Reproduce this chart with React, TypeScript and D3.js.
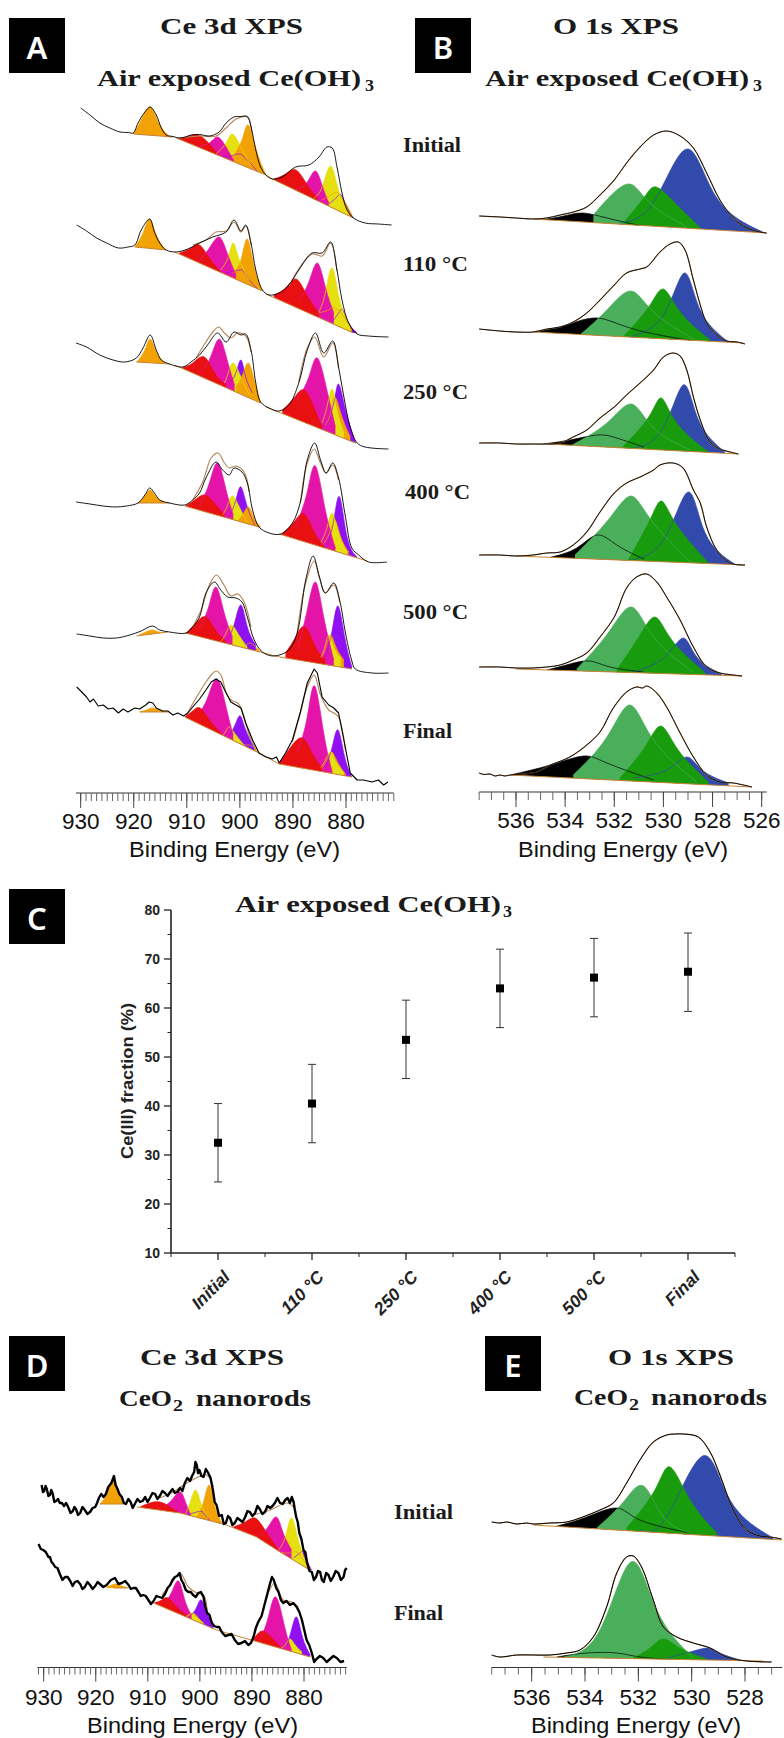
import React from "react";
import * as d3 from "d3";

type Pt = [number, number];
type Peak = { c: string; p: Pt[] };
type Spec = { raw: Pt[]; env: Pt[][]; base: Pt[][]; peaks: Peak[]; jag?: boolean };

const palette: Record<string, string> = {
  red: "#e81010", magenta: "#e514a8", yellow: "#e6e010", orange: "#f2a205", purple: "#8f10f0",
  black: "#000000", blue: "#324aac", light: "#4aaf5a", dark: "#189b0c",
};

// ---------- Panel A: Ce 3d, air exposed Ce(OH)3 (binding energy, offset counts) ----------
const a1Raw: Pt[] = [[930,692],[928.25,685],[926.4,677],[924.5,672],[922.6,668],[921,667.5],[920.1,667],[919.2,677],[917.9,688],[916.9,693],[915.75,685],[914.8,672],[913.9,665],[912.6,663.5],[911.4,662],[910.3,663],[909.2,665],[907.6,665.5],[905.75,664],[903.9,668],[902.6,677],[901.1,683],[899.8,683.5],[898.6,683.5],[897.9,673],[897,650],[896.1,633],[895.1,625],[893.9,621],[892,623],[889.5,633],[887,635],[885.1,643],[883.6,653],[882.6,652],[881.7,633],[880.75,607],[879.8,590],[878.6,582],[876.4,577],[873.9,576],[871.4,575]];
const a1Env: Pt[][] = [[[911.4,662],[907.6,664],[904.5,664],[902.6,672],[900.7,681],[898.6,683],[897.7,667]]];
const a1Base: Pt[][] = [[[920.1,666],[912.6,663]],[[912,662],[895.1,625],[893.9,621],[878.6,582]]];
const a1Peaks: Peak[] = [
  { c: "orange", p: [[920.1,666],[918.6,680],[916.9,693],[915.3,677],[913.2,663]] },
  { c: "purple", p: [[903.25,644],[901.7,644],[900.1,646],[898.6,640],[896.4,627]] },
  { c: "yellow", p: [[904.5,646],[902.6,657],[901.4,666],[899.8,653],[897.9,634]] },
  { c: "orange", p: [[901.4,643],[899.6,660],[898.4,675],[896.9,650],[895.1,625]] },
  { c: "magenta", p: [[908.25,653],[905.75,657],[904.2,663],[902.6,653],[901.1,639]] },
  { c: "red", p: [[911.9,661],[910.1,663],[907.9,665],[905.75,656],[903.9,644]] },
  { c: "purple", p: [[883.25,596],[881.7,603],[880.9,605],[879.8,593],[878.6,582]] },
  { c: "orange", p: [[884.5,600],[882.6,606],[881.5,607],[880.1,597],[878.9,585]] },
  { c: "yellow", p: [[886.1,602],[884.5,613],[882.9,634],[881.4,610],[879.5,587]] },
  { c: "magenta", p: [[889.5,610],[887.3,618],[885.75,629],[884.4,613],[883.25,597]] },
  { c: "red", p: [[893.6,621],[891.4,626],[889.4,630],[887.3,615],[885.4,602]] },
];

const a2Raw: Pt[] = [[930.75,575],[928.9,569],[927,562],[925.1,557],[922.9,552],[921.1,553],[919.8,555],[918.6,570],[917,581],[916.1,568],[915.1,557],[913.9,550],[912,548],[909.8,551],[907.6,557],[905.1,563],[902.6,568],[901.1,580],[899.8,569],[898.9,575],[897.9,557],[897,530],[895.75,510],[894.5,505],[892.6,507],[890.75,515],[888.9,530],[886.4,547],[884.5,547],[882.9,558],[881.7,530],[880.75,500],[879.5,477],[877.9,466],[875.75,464],[872,463]];
const a2Env: Pt[][] = [[[908.9,555],[906.4,560],[904.5,568],[902.6,569],[901.1,578],[899.8,568],[898.9,574],[897.9,555]],[[890.75,514],[888.9,531],[886.4,546],[884.5,544],[882.9,557],[881.7,529]]];
const a2Base: Pt[][] = [[[919.8,553],[913.9,550]],[[912.3,548],[895.75,509]],[[895.1,506],[878.6,467]]];
const a2Peaks: Peak[] = [
  { c: "orange", p: [[919.8,553],[918.25,567],[917,581],[915.75,565],[914,550]] },
  { c: "purple", p: [[902.6,527],[900.1,530],[899.2,528],[897.9,518],[896.4,510]] },
  { c: "yellow", p: [[903.6,530],[902.2,543],[901.25,557],[900.1,540],[898.25,520]] },
  { c: "orange", p: [[901.4,527],[899.8,540],[898.6,561],[897.3,533],[895.75,509]] },
  { c: "magenta", p: [[907.9,538],[905.75,552],[903.9,563],[902.4,547],[900.75,525]] },
  { c: "red", p: [[911.4,547],[909.2,552],[907.6,555],[905.75,542],[903.6,528]] },
  { c: "purple", p: [[882.6,478],[881.4,487],[880.6,490],[879.5,477],[877.9,467]] },
  { c: "orange", p: [[885.4,487],[883.25,490],[882,492],[880.4,483],[878.9,470]] },
  { c: "yellow", p: [[885.1,488],[883.9,507],[882.6,532],[881.2,500],[879.2,475]] },
  { c: "magenta", p: [[888.9,500],[887,518],[885.4,537],[883.9,513],[882.3,487]] },
  { c: "red", p: [[893.6,505],[891.4,512],[889.4,521],[887.4,505],[885.1,487]] },
];

const a3Raw: Pt[] = [[930.9,457],[928.9,453],[926.4,445],[923.9,440],[921.7,438],[919.5,442],[918.25,452],[916.9,465],[915.75,450],[914.8,440],[913.25,436],[910.75,433],[909.2,438],[907.6,445],[906.1,455],[904.2,467],[902.6,458],[901.1,468],[899.8,465],[898.9,466],[897.9,450],[897,417],[896.1,398],[894.5,392],[892.6,389],[890.75,395],[888.9,417],[887.3,450],[885.75,467],[884.2,447],[882.5,459],[881.4,433],[880.4,403],[879.2,373],[877.9,357],[876.4,353],[872,351]];
const a3Env: Pt[][] = [[[908.25,442],[906.4,458],[905.1,468],[904,473],[902.9,467],[901.7,462],[900.4,467],[898.9,464],[897.9,448]],[[888.9,418],[887.3,452],[885.9,463],[884.2,443],[882.5,457],[881.4,432]]];
const a3Base: Pt[][] = [[[919.5,438],[913.25,436]],[[912.3,435],[896.1,397]],[[895.1,393],[878.2,357]]];
const a3Peaks: Peak[] = [
  { c: "orange", p: [[919.4,438],[917.9,450],[916.9,461],[915.75,448],[914.2,437]] },
  { c: "purple", p: [[902,417],[900.75,427],[899.8,440],[898.9,423],[897.6,407]] },
  { c: "yellow", p: [[902.9,417],[902.2,427],[901.25,437],[899.8,423],[898.25,405]] },
  { c: "orange", p: [[900.75,413],[899.5,425],[898.4,437],[897.3,420],[896.1,398]] },
  { c: "magenta", p: [[907.6,427],[905.6,442],[903.9,461],[902.4,440],[901,415]] },
  { c: "red", p: [[911,432],[908.9,437],[906.7,443],[904.8,427],[902.6,415]] },
  { c: "purple", p: [[883.6,377],[882.3,397],[881.4,416],[880.1,390],[878.2,357]] },
  { c: "orange", p: [[883.9,375],[882.9,387],[882.1,403],[880.75,383],[879.2,363]] },
  { c: "yellow", p: [[884.5,377],[883.6,393],[882.6,411],[881.7,390],[880.4,367]] },
  { c: "magenta", p: [[889.2,400],[887,423],[885.4,442],[883.6,410],[882,373]] },
  { c: "red", p: [[892,390],[889.8,402],[887.9,410],[886,392],[884.5,373]] },
];

const a4Raw: Pt[] = [[930.9,298],[928.25,296],[925.75,294],[923.6,293],[921.4,294],[919.2,297],[917.9,305],[917,312],[916.1,307],[915.1,300],[913.25,297],[910.4,295],[908.9,300],[907.6,307],[906.4,322],[904.5,338],[903.25,330],[902,325],[901.1,332],[899.6,328],[898.6,317],[897.6,290],[896.4,273],[894.5,267],[892.3,266],[890.1,277],[888.6,298],[887.3,340],[885.9,357],[884.8,340],[883.75,327],[882.5,337],[881.4,322],[880.1,283],[878.9,252],[877.6,245],[875.75,238],[872.3,238]];
const a4Env: Pt[][] = [[[908.9,300],[907,318],[905.4,342],[904.1,347],[902.9,337],[902,332],[900.75,334],[899.2,328],[898.25,308]],[[888.6,297],[887.3,337],[886,351],[884.8,337],[883.75,327],[882.5,335],[881.4,320]]];
const a4Base: Pt[][] = [[[919.2,297],[913.25,297]],[[910.4,294],[896.4,273]],[[892.6,266],[876,239]]];
const a4Peaks: Peak[] = [
  { c: "orange", p: [[919.1,297],[917.9,304],[916.9,310],[915.75,303],[914,297]] },
  { c: "purple", p: [[902,283],[900.75,300],[899.8,313],[898.6,293],[897,273]] },
  { c: "yellow", p: [[903.25,285],[902.3,295],[901.4,304],[900.1,293],[898.6,277]] },
  { c: "orange", p: [[900.75,278],[899.5,285],[898.4,293],[897.3,282],[896.1,273]] },
  { c: "magenta", p: [[907.6,295],[905.75,317],[904.2,337],[902.6,310],[901.25,285]] },
  { c: "red", p: [[910.2,294],[908.25,301],[906.6,305],[904.8,297],[902.9,285]] },
  { c: "purple", p: [[883.6,253],[882.3,280],[881.2,303],[879.8,263],[877.9,243]] },
  { c: "orange", p: [[884.5,255],[883.1,267],[882.1,280],[881,263],[879.5,248]] },
  { c: "yellow", p: [[884.8,257],[883.6,272],[882.6,287],[881.4,267],[879.8,248]] },
  { c: "magenta", p: [[889.5,273],[887.3,308],[885.75,334],[883.9,290],[882,252]] },
  { c: "red", p: [[892.3,265],[889.8,278],[887.9,286],[885.9,267],[883.9,252]] },
];

const a5Raw: Pt[] = [[930.75,166],[928.25,164],[925.75,162],[923.25,162],[920.75,165],[918.6,169],[916.5,174],[915.1,170],[913.25,168],[910.1,167],[908.9,173],[907.6,183],[906.4,207],[904.8,218],[903.6,210],[902.3,203],[900.75,202],[899.6,198],[898.6,183],[897.3,160],[895.75,148],[893.6,144],[890.75,150],[889.2,167],[887.6,220],[886.2,244],[885,223],[883.9,207],[882.3,217],[881.2,200],[880.1,167],[879,141],[878.25,131],[875.1,127],[872,127]];
const a5Env: Pt[][] = [[[908.9,173],[907.3,190],[905.75,215],[904.4,225],[903,215],[901.7,204],[900.4,206],[899.2,198],[897.9,173]],[[889.2,167],[887.6,217],[886,239],[885,222],[883.9,207],[882.3,215],[881.2,198]]];
const a5Base: Pt[][] = [[[919.5,164],[913.6,168]],[[910.3,167],[892.5,143],[878.9,131]]];
const a5Peaks: Peak[] = [
  { c: "orange", p: [[919,165],[917.75,168],[916.5,170],[915.25,168],[913.6,167]] },
  { c: "orange", p: [[900.2,150],[899.1,153],[898.2,157],[897,153],[896.1,148]] },
  { c: "purple", p: [[902.3,160],[901,177],[899.8,195],[898.6,173],[897,155]] },
  { c: "yellow", p: [[903.6,158],[902.6,167],[901.6,175],[900.2,165],[898.6,153]] },
  { c: "magenta", p: [[907.6,172],[905.9,193],[904.5,213],[903,188],[901.4,163]] },
  { c: "red", p: [[910.1,167],[908.1,178],[906.4,183],[904.6,170],[902.6,158]] },
  { c: "purple", p: [[883.9,143],[882.6,170],[881.5,194],[880.25,163],[878.9,133]] },
  { c: "orange", p: [[884.6,142],[883.75,153],[882.9,165],[881.9,153],[880.4,140]] },
  { c: "yellow", p: [[884.75,143],[884,153],[883.2,165],[882.25,152],[881,142]] },
  { c: "magenta", p: [[889.2,150],[887.3,190],[885.75,218],[884.2,183],[882.3,140]] },
  { c: "red", p: [[891.4,147],[889.5,163],[887.75,173],[885.75,153],[883.9,140]] },
];

const a6Raw: Pt[] = [[930.75,113],[929.8,108],[928.9,103],[928.25,98],[927.6,101],[926.7,94],[925.75,95],[924.8,91],[923.9,92],[922.9,87],[922,91],[921.1,88],[919.8,92],[918.9,91],[917.75,95],[917.1,98],[916.4,97],[915.75,92],[914.6,89],[913.6,89],[912.6,85],[911.7,87],[910.6,84],[909.8,87],[908.9,93],[907.6,101],[906.4,110],[905.4,118],[904.5,121],[903.6,118],[902.6,107],[901.7,98],[900.75,95],[899.8,92],[898.9,77],[897.6,60],[896.4,47],[895.1,43],[893.9,41],[893.1,43],[892.6,37],[891.4,47],[890.1,60],[888.6,88],[887.3,117],[886,131],[885.4,127],[884.5,103],[883.25,95],[882.3,92],[881.4,87],[880.4,60],[879.2,27],[877.9,20],[876.7,20],[875.1,18],[873.9,20],[872.9,15],[872.1,18]];
const a6Env: Pt[][] = [[[910.1,85],[908.25,102],[906.4,118],[905.4,125],[904.5,129],[903.6,125],[902.6,108],[901.7,100],[900.4,97],[899.5,88],[898.25,65],[897,50]],[[890.1,58],[888.6,87],[887.3,113],[886,125],[884.8,105],[883.25,90],[882.3,87],[881.4,83],[880.1,50]]];
const a6Base: Pt[][] = [[[918.9,88],[913.6,88]],[[910.4,83],[896.4,47],[892.6,36],[878.9,23]]];
const a6Peaks: Peak[] = [
  { c: "orange", p: [[918.9,88],[917.6,90],[916.4,92],[915.1,90],[913.6,88]] },
  { c: "orange", p: [[900.1,57],[899.2,55],[898.4,55],[897.5,53],[896.4,47]] },
  { c: "purple", p: [[902,63],[900.75,77],[899.9,84],[898.9,70],[897.3,52]] },
  { c: "yellow", p: [[903.6,63],[902.75,68],[902,73],[900.75,65],[899.2,55]] },
  { c: "magenta", p: [[907.6,88],[906.1,102],[904.3,121],[902.6,93],[901.25,65]] },
  { c: "red", p: [[910.4,83],[908.9,89],[907.5,92],[905.75,80],[903.25,65]] },
  { c: "purple", p: [[883.9,32],[882.6,53],[881.5,70],[880.25,43],[878.9,23]] },
  { c: "orange", p: [[884.6,31],[883.6,40],[882.7,48],[881.6,38],[880.1,26]] },
  { c: "yellow", p: [[884.8,32],[883.9,40],[882.9,48],[881.9,38],[880.4,27]] },
  { c: "magenta", p: [[889.2,47],[887.3,83],[885.9,114],[884.2,67],[882.6,28]] },
  { c: "red", p: [[892.6,37],[890.4,53],[888.25,62],[886.4,47],[884.5,32]] },
];

// ---------- Panel B: O 1s, air exposed Ce(OH)3 ----------
const b1Raw: Pt[] = [[537.5,584],[536.65,583],[536,582],[535.3,581],[534.75,582],[534.2,585],[533.67,588],[533.12,593],[532.58,605],[532,620],[531.5,637],[530.95,653],[530.4,665],[529.87,669],[529.32,664],[528.78,652],[528.24,627],[527.7,600],[527.15,582],[526.6,572],[526.07,568],[525.8,567]];
const b1Base: Pt[][] = [[[535.3,581],[525.8,567]]];
const b1Peaks: Peak[] = [
  { c: "black", p: [[534.9,580.5],[534.05,584],[533.3,587],[532.3,582],[530.7,573]] },
  { c: "blue", p: [[531.77,577],[530.4,598],[529.05,651],[527.85,603],[525.95,568]] },
  { c: "light", p: [[532.85,585],[532.2,603],[531.36,616],[530.55,597],[529.05,573]] },
  { c: "dark", p: [[531.64,577],[530.8,602],[530.3,613],[529.53,597],[528.5,572]] },
];
const b2Raw: Pt[] = [[537.5,471],[536.65,469],[536,468],[535.3,468],[534.75,471],[534.2,473],[533.67,478],[533.12,487],[532.58,500],[532,515],[531.5,527],[530.95,531],[530.68,533],[530.14,548],[529.73,556],[529.39,558],[529.12,550],[528.78,520],[528.5,495],[528.24,477],[527.83,465],[527.42,459],[527,458],[526.68,456]];
const b2Base: Pt[][] = [[[535.3,468],[526.75,457]]];
const b2Peaks: Peak[] = [
  { c: "black", p: [[535.17,468],[533.94,475],[532.7,482],[531.22,471],[528.78,459]] },
  { c: "blue", p: [[531.36,463],[530,485],[529.15,527],[528.5,490],[527.35,458]] },
  { c: "light", p: [[533.4,465],[532.3,490],[531.33,509],[530.4,488],[528.78,461]] },
  { c: "dark", p: [[531.64,463],[530.6,493],[530,511],[529.32,488],[528.1,460]] },
];
const b3Raw: Pt[] = [[537.5,357],[536.65,357],[536,356],[535.3,356],[534.75,356],[534.2,357],[533.67,363],[533.12,370],[532.58,382],[532,393],[531.5,405],[530.95,417],[530.4,430],[530,443],[529.6,447],[529.32,444],[529.05,430],[528.78,403],[528.5,380],[528.1,358],[527.7,351],[527.28,348],[526.95,346]];
const b3Base: Pt[][] = [[[534.75,356],[526.95,346]]];
const b3Peaks: Peak[] = [
  { c: "black", p: [[534.9,356],[533.8,360],[532.7,365],[531.9,362],[530.8,353]] },
  { c: "blue", p: [[531.77,351],[530.15,367],[529.2,415],[528.57,380],[527.5,348]] },
  { c: "light", p: [[533.8,354],[532.3,377],[531.3,396],[530.4,372],[528.9,350]] },
  { c: "dark", p: [[531.7,352],[530.6,383],[530.08,402],[529.46,377],[528.17,348]] },
];
const b4Raw: Pt[] = [[537.5,245],[536.65,245],[536,244],[535.3,245],[534.75,247],[534.2,248],[533.67,255],[533.12,268],[532.58,288],[532,307],[531.5,317],[530.95,323],[530.4,330],[530.14,335],[529.6,337],[529.2,332],[528.78,310],[528.5,297],[528.24,273],[527.83,250],[527.3,237],[526.68,235]];
const b4Base: Pt[][] = [[[536,244],[526.68,235]]];
const b4Peaks: Peak[] = [
  { c: "black", p: [[534.6,242.7],[533.53,252],[532.7,265],[531.9,255],[530.8,241]] },
  { c: "blue", p: [[531.5,239],[530,260],[529,308],[528.3,267],[527.1,236]] },
  { c: "light", p: [[533.6,245],[532.25,280],[531.33,304],[530.5,280],[528.9,238]] },
  { c: "dark", p: [[531.43,240],[530.55,280],[530.07,299],[529.46,275],[528.17,237]] },
];
const b5Raw: Pt[] = [[537.5,133],[536.65,133],[536,132],[535.3,132],[534.75,133],[534.2,135],[533.67,140],[533.12,147],[532.58,163],[532,183],[531.5,212],[531.09,223],[530.68,226],[530.27,218],[529.87,203],[529.32,180],[528.78,153],[528.24,133],[527.7,127],[527.15,125],[526.8,124]];
const b5Base: Pt[][] = [[[536,131],[526.8,124]]];
const b5Peaks: Peak[] = [
  { c: "black", p: [[534.75,130],[533.8,136],[533,139],[532.17,133],[530.8,128]] },
  { c: "blue", p: [[531.36,127],[530,142],[529.2,162],[528.64,143],[527.63,126]] },
  { c: "light", p: [[533.53,131],[532.25,167],[531.3,193],[530.4,163],[528.8,128]] },
  { c: "dark", p: [[531.9,130],[531,163],[530.34,183],[529.66,160],[528.3,127]] },
];
const b6Raw: Pt[] = [[537.5,27],[537.3,25.5],[537.06,26],[536.85,24],[536.65,25],[536.45,24],[536.24,25],[535.7,26],[535.16,28],[534.6,35],[534.07,40],[533.67,45],[533.12,55],[532.58,68],[532.04,92],[531.5,108],[531.09,113],[530.85,112],[530.68,114],[530.27,107],[529.87,93],[529.32,67],[528.78,43],[528.24,25],[527.7,18],[527.15,17],[526.4,13]];
const b6Base: Pt[][] = [[[536.24,25],[526.4,13]]];
const b6Peaks: Peak[] = [
  { c: "black", p: [[536.24,25],[534.6,35],[533.26,44],[532.3,37],[530.4,20]] },
  { c: "blue", p: [[531.22,22],[529.87,30],[529.05,43],[528.43,30],[527.35,17]] },
  { c: "light", p: [[533.67,25],[532.3,63],[531.36,95],[530.4,60],[528.64,18]] },
  { c: "dark", p: [[531.77,22],[530.75,53],[530.1,74],[529.4,50],[528.17,18]] },
];

// ---------- Panel C ----------
const cCategories = ["Initial", "110 °C", "250 °C", "400 °C", "500 °C", "Final"];
const cValues = [32.5, 40.5, 53.5, 64, 66.2, 67.4];
const cLower = [24.5, 32.5, 45.6, 56, 58.2, 59.3];
const cUpper = [40.5, 48.5, 61.6, 72, 74.2, 75.3];
const cYTicks = [10, 20, 30, 40, 50, 60, 70, 80];

// ---------- Panel D: Ce 3d, CeO2 nanorods ----------
const d1Raw: Pt[] = [[930.4,215],[930.15,208],[929.9,209],[929.65,214],[929.4,211],[929.1,204],[928.8,205],[928.55,210],[928.3,207],[927.95,198],[927.6,199],[927.25,201],[926.9,197],[926.5,197],[926.1,194],[925.7,197],[925.3,193],[924.85,187],[924.4,189],[924.1,193],[923.8,191],[923.4,185],[923,187],[922.55,193],[922.1,190],[921.6,186],[921.1,188],[920.6,192],[920.1,193],[919.75,197],[919.4,202],[918.95,206],[918.5,203],[918.05,206],[917.6,213],[917,217],[916.5,224],[916.2,215],[915.9,212],[915.45,206],[915,203],[914.6,197],[914.2,196],[913.75,201],[913.3,198],[912.9,192],[912.5,196],[912,201],[911.5,198],[911,199],[910.5,203],[910.05,198],[909.6,202],[909.1,207],[908.6,206],[908.15,201],[907.7,204],[907.2,209],[906.7,207],[906.2,204],[905.7,208],[905.25,211],[904.8,207],[904.3,208],[903.8,212],[903.35,209],[902.9,217],[902.4,222],[901.9,219],[901.5,224],[901.1,228],[900.85,238],[900.6,235],[900.35,227],[900.1,230],[899.7,224],[899.3,223],[898.85,231],[898.4,227],[897.95,222],[897.5,210],[897.15,198],[896.8,195],[896.3,184],[895.8,185],[895.4,176],[895,177],[894.6,184],[894.2,182],[893.75,175],[893.3,177],[892.8,182],[892.3,180],[891.8,178],[891.3,183],[890.85,189],[890.4,188],[889.9,184],[889.4,187],[888.95,194],[888.5,191],[888,186],[887.5,188],[887,194],[886.5,192],[886.05,194],[885.6,197],[885.1,202],[884.6,197],[884.1,196],[883.6,200],[883.15,202],[882.7,197],[882.35,203],[882,198],[881.75,190],[881.5,183],[881.2,178],[880.9,167],[880.5,161],[880.1,150],[879.75,148],[879.4,137],[878.95,129],[878.5,128],[878.1,120],[877.7,123],[877.3,129],[876.9,128],[876.55,120],[876.2,118],[875.75,127],[875.3,125],[874.85,119],[874.4,123],[873.9,129],[873.4,127],[872.9,120],[872.4,123],[872.1,130],[871.8,132]];
const d1Env: Pt[][] = [[[907.7,202],[905.1,208],[902.5,217],[898.7,225],[897.4,213]],[[889.7,185],[886.5,190],[883.3,197],[882,193]]];
const d1Base: Pt[][] = [[[919.2,196],[914.2,196]],[[912.1,193],[903.8,187],[894.9,175],[889.1,163],[884.6,148],[878.9,130]]];
const d1Peaks: Peak[] = [
  { c: "orange", p: [[919.2,196],[917.8,207],[916.5,221],[915.3,203],[914.2,196]] },
  { c: "purple", p: [[903.8,183],[900.6,188],[899.3,187],[897.7,178],[896.1,177]] },
  { c: "yellow", p: [[902.9,185],[901.9,197],[900.8,210],[899.7,195],[898.4,182]] },
  { c: "orange", p: [[900.6,183],[899.3,198],[898.2,215],[897.1,193],[895.6,176]] },
  { c: "magenta", p: [[907,193],[905.4,200],[903.8,208],[902.7,197],[901.6,183]] },
  { c: "red", p: [[911.5,193],[909.6,197],[907.7,198],[905.7,193],[903.5,185]] },
  { c: "purple", p: [[882,142],[880.8,147],[880,148],[879.2,137],[878.3,128]] },
  { c: "orange", p: [[885.6,148],[882.7,147],[881.4,148],[880.1,140],[878.8,131]] },
  { c: "yellow", p: [[884.9,150],[883.6,163],[882.4,182],[881.1,160],[879.2,132]] },
  { c: "magenta", p: [[888.8,163],[886.9,173],[885.3,183],[884,167],[882.4,150]] },
  { c: "red", p: [[893.6,173],[891.3,178],[889.4,182],[887.5,170],[884.9,150]] },
];
const d2Raw: Pt[] = [[931,156],[930.55,151],[930.1,150],[929.6,148],[929.1,143],[928.8,143],[928.5,138],[928.15,136],[927.8,133],[927.35,132],[926.9,126],[926.4,120],[925.9,123],[925.4,123],[924.9,119],[924.45,114],[924,118],[923.5,119],[923,116],[922.55,111],[922.1,113],[921.6,118],[921.1,115],[920.6,111],[920.1,114],[919.65,118],[919.2,116],[918.55,113],[917.9,115],[917.1,120],[916.3,122],[915.65,116],[915,117],[914.35,119],[913.7,115],[913.25,111],[912.8,112],[912.3,112],[911.8,108],[911.35,104],[910.9,105],[910.4,104],[909.9,100],[909.4,96],[908.9,99],[908.35,104],[907.8,103],[907.25,102],[906.7,106],[906.2,112],[905.7,115],[905.25,120],[904.8,123],[904.35,124],[903.9,127],[903.55,120],[903.2,117],[902.7,110],[902.2,108],[901.75,108],[901.3,105],[900.8,103],[900.3,107],[899.8,108],[899.3,103],[898.95,93],[898.6,87],[898.15,85],[897.7,77],[897.25,74],[896.8,73],[896.3,73],[895.8,68],[895.15,64],[894.5,65],[893.9,66],[893.3,60],[892.65,56],[892,57],[891.35,59],[890.7,55],[890.2,57],[889.7,63],[889.25,72],[888.8,78],[888.15,84],[887.5,97],[887,107],[886.5,117],[886.15,123],[885.8,120],[885.35,112],[884.9,108],[884.45,100],[884,97],[883.35,99],[882.7,95],[882.05,97],[881.4,93],[880.9,88],[880.4,80],[879.95,70],[879.5,60],[879,55],[878.5,47],[878.05,38],[877.6,41],[876.95,44],[876.3,42],[875.65,38],[875,41],[874.35,44],[873.7,42],[873,38],[872.3,39]];
const d2Env: Pt[][] = [[[907.3,105],[905.4,117],[903.8,127],[902.2,113],[900.6,107],[899.3,105],[898.6,90]],[[887.2,103],[885.6,117],[884,100],[882.4,98],[881.1,93]]];
const d2Base: Pt[][] = [[[916.6,112],[913.7,112]],[[908.9,97],[896.8,70],[878.8,43]]];
const d2Peaks: Peak[] = [
  { c: "orange", p: [[917.9,113],[916.9,115],[916,116],[915,114],[913.7,112]] },
  { c: "orange", p: [[902.7,82],[901.7,86],[900.7,85],[899.3,75],[898.4,72]] },
  { c: "purple", p: [[901.6,85],[900.6,93],[899.7,100],[898.6,87],[897.4,75]] },
  { c: "yellow", p: [[902.9,83],[902.2,85],[901.4,87],[900.6,83],[899.3,77]] },
  { c: "magenta", p: [[906.7,98],[905.4,108],[904.1,119],[902.9,100],[901.6,85]] },
  { c: "red", p: [[908.8,97],[907.3,100],[906.1,102],[904.5,93],[902.5,85]] },
  { c: "purple", p: [[883.3,55],[882.4,70],[881.4,83],[880.3,63],[878.8,45]] },
  { c: "yellow", p: [[884.5,52],[883.6,55],[882.7,61],[881.7,55],[880.4,48]] },
  { c: "magenta", p: [[888.5,60],[886.9,82],[885.4,103],[883.7,73],[882.4,50]] },
  { c: "red", p: [[890.4,55],[889.1,65],[887.8,69],[886.2,62],[884.3,52]] },
];

// ---------- Panel E: O 1s, CeO2 nanorods ----------
const e1Raw: Pt[] = [[537.5,178],[537.19,177],[536.94,178],[536.56,176],[536.2,177],[535.94,176],[535.31,177],[534.69,178],[534.19,182],[533.44,190],[532.94,197],[532.44,217],[531.94,240],[531.44,258],[530.94,265],[530.6,266],[530.31,266],[529.75,263],[529.31,248],[528.94,225],[528.44,190],[527.94,170],[527.44,164],[527.06,163],[526.63,161]];
const e1Base: Pt[][] = [[[535.94,175],[526.63,160]]];
const e1Peaks: Peak[] = [
  { c: "black", p: [[535.1,173.5],[533.94,183],[532.81,192],[531.94,180],[530.06,167]] },
  { c: "blue", p: [[531.94,170],[530.94,183],[529.59,244],[528.56,200],[526.94,162]] },
  { c: "light", p: [[533.56,172],[532.56,198],[531.81,214],[531.06,183],[530.06,167]] },
  { c: "dark", p: [[532.44,172],[531.38,210],[530.81,233],[530.06,200],[529.06,167]] },
];
const e2Raw: Pt[] = [[537.5,45],[537.19,43],[536.56,45],[535.94,45],[535.31,45],[534.69,47],[534.19,50],[533.69,63],[533.19,93],[532.81,127],[532.44,143],[532.19,144],[531.88,133],[531.44,100],[531.06,73],[530.56,63],[529.94,57],[529.31,52],[528.69,43],[527.94,39],[527,38]];
const e2Base: Pt[][] = [[[535.56,43],[527.31,39]]];
const e2Peaks: Peak[] = [
  { c: "black", p: [[535.06,43],[533.94,47],[532.81,47],[531.94,43],[530.56,40]] },
  { c: "blue", p: [[530.94,42],[530.06,48],[529.38,52],[528.94,47],[528.19,40]] },
  { c: "light", p: [[534.81,43],[533.44,70],[532.28,138],[531.31,90],[529.94,42]] },
  { c: "dark", p: [[532.19,42],[531.56,52],[531.06,61],[530.44,52],[529.44,41]] },
];

const panelA: Spec[] = [
  { raw: a1Raw, env: a1Env, base: a1Base, peaks: a1Peaks },
  { raw: a2Raw, env: a2Env, base: a2Base, peaks: a2Peaks },
  { raw: a3Raw, env: a3Env, base: a3Base, peaks: a3Peaks },
  { raw: a4Raw, env: a4Env, base: a4Base, peaks: a4Peaks },
  { raw: a5Raw, env: a5Env, base: a5Base, peaks: a5Peaks },
  { raw: a6Raw, env: a6Env, base: a6Base, peaks: a6Peaks, jag: true },
];
const panelB: Spec[] = [
  { raw: b1Raw, env: [b1Raw], base: b1Base, peaks: b1Peaks },
  { raw: b2Raw, env: [b2Raw], base: b2Base, peaks: b2Peaks },
  { raw: b3Raw, env: [b3Raw], base: b3Base, peaks: b3Peaks },
  { raw: b4Raw, env: [b4Raw], base: b4Base, peaks: b4Peaks },
  { raw: b5Raw, env: [b5Raw], base: b5Base, peaks: b5Peaks },
  { raw: b6Raw, env: [b6Raw], base: b6Base, peaks: b6Peaks },
];
const panelD: Spec[] = [
  { raw: d1Raw, env: d1Env, base: d1Base, peaks: d1Peaks, jag: true },
  { raw: d2Raw, env: d2Env, base: d2Base, peaks: d2Peaks, jag: true },
];
const panelE: Spec[] = [
  { raw: e1Raw, env: [e1Raw], base: e1Base, peaks: e1Peaks },
  { raw: e2Raw, env: [e2Raw], base: e2Base, peaks: e2Peaks },
];

const ceMajor = [930, 920, 910, 900, 890, 880];
const oMajorB = [536, 534, 532, 530, 528, 526];
const oMajorE = [536, 534, 532, 530, 528];

const SANS = "'Liberation Sans', Arial, sans-serif";
const SERIF = "'Liberation Serif', 'Times New Roman', serif";
const BOX = "'Noto Sans', 'Open Sans', sans-serif";

function Spectra({ id, specs, x, y, rawW }: { id: string; specs: Spec[]; x: any; y: any; rawW: number }) {
  const peakLine = d3.line<Pt>().x((d) => x(d[0])).y((d) => y(d[1])).curve(d3.curveNatural);
  const smoothLine = d3.line<Pt>().x((d) => x(d[0])).y((d) => y(d[1])).curve(d3.curveCatmullRom.alpha(0.5));
  const jagLine = d3.line<Pt>().x((d) => x(d[0])).y((d) => y(d[1]));
  return (
    <g>
      {specs.map((s, i) => {
        const bp = s.base.flat();
        const baseAt = d3.scaleLinear().domain(bp.map((d) => d[0])).range(bp.map((d) => d[1]));
        const first = bp[0];
        const last = bp[bp.length - 1];
        const clip =
          `M0,-10000L0,${y(first[1])}` +
          bp.map((d) => `L${x(d[0])},${y(d[1])}`).join("") +
          `L784,${y(last[1])}L784,-10000Z`;
        return (
          <g key={i}>
            <clipPath id={`${id}${i}`}>
              <path d={clip} />
            </clipPath>
            <g clipPath={`url(#${id}${i})`}>
              {s.peaks.map((pk, j) => {
                const a = pk.p[0];
                const b = pk.p[pk.p.length - 1];
                const d =
                  (peakLine(pk.p) as string) +
                  `L${x(b[0])},${y(baseAt(b[0]) - 2)}L${x(a[0])},${y(baseAt(a[0]) - 2)}Z`;
                return <path key={j} d={d} fill={palette[pk.c]} stroke="none" />;
              })}
              {s.peaks.map((pk, j) => (
                <path key={j} d={peakLine(pk.p) as string} fill="none" stroke={palette[pk.c]} strokeWidth={0.7} />
              ))}
            </g>
            {s.base.map((b, j) => (
              <path key={j} d={jagLine(b) as string} fill="none" stroke="#c98535" strokeWidth={1} />
            ))}
            {s.env.map((e, j) => (
              <path key={j} d={smoothLine(e) as string} fill="none" stroke="#b5895f" strokeWidth={1.2} />
            ))}
            <path d={(s.jag ? jagLine : smoothLine)(s.raw) as string} fill="none" stroke="#000" strokeWidth={s.jag ? rawW * 1.25 : rawW} strokeLinejoin="round" />
          </g>
        );
      })}
    </g>
  );
}

function EnergyAxis({ x, y, from, to, minorStep, majors, labelY, title, titleX, titleW, titleY, majorLen, minorLen }: any) {
  const minor = d3.range(Math.ceil(to / minorStep) * minorStep, from + 0.001, minorStep);
  return (
    <g>
      <line x1={x(from)} x2={x(to)} y1={y} y2={y} stroke="#333" strokeWidth={1} />
      {minor.map((m: number) => (
        <line key={m} x1={x(m)} x2={x(m)} y1={y} y2={y + minorLen} stroke="#666" strokeWidth={1} />
      ))}
      {majors.map((m: number) => (
        <g key={m}>
          <line x1={x(m)} x2={x(m)} y1={y} y2={y + majorLen} stroke="#444" strokeWidth={1} />
          <text x={x(m)} y={labelY} textAnchor="middle" fontFamily={SANS} fontSize={22.5} fill="#111">{m}</text>
        </g>
      ))}
      <text x={titleX} y={titleY} fontFamily={SANS} fontSize={22.5} fill="#111" textLength={titleW} lengthAdjust="spacingAndGlyphs">{title}</text>
    </g>
  );
}

function Box({ x, y, letter }: { x: number; y: number; letter: string }) {
  return (
    <g>
      <rect x={x} y={y} width={56} height={55} fill="#000" />
      <text x={x + 28} y={y + 41} textAnchor="middle" fontFamily={BOX} fontWeight={600} fontSize={31} fill="#fff">{letter}</text>
    </g>
  );
}

function T({ x, w, y, s, size = 24 }: { x: number; w: number; y: number; s: string; size?: number }) {
  return (
    <text x={x} y={y} fontFamily={SERIF} fontWeight={700} fontSize={size} fill="#1a1a1a" textLength={w} lengthAdjust="spacingAndGlyphs" style={{ whiteSpace: "pre" }}>{s}</text>
  );
}

function Row({ x, w, y, s }: { x: number; w: number; y: number; s: string }) {
  return <T x={x} w={w} y={y} s={s} size={20} />;
}

function PanelC() {
  const x = d3.scaleLinear().domain([0.5, 6.5]).range([171, 735]);
  const y = d3.scaleLinear().domain([10, 80]).range([1253, 910]);
  const xMinor = d3.range(0.5, 6.6, 1);
  const yMinor = d3.range(15, 80, 10);
  return (
    <g>
      <line x1={x(0.5)} x2={x(0.5)} y1={y(80)} y2={y(10)} stroke="#222" strokeWidth={1.6} />
      <line x1={x(0.5)} x2={x(6.5)} y1={y(10)} y2={y(10)} stroke="#222" strokeWidth={1.6} />
      {cYTicks.map((t) => (
        <g key={t}>
          <line x1={x(0.5) - 7} x2={x(0.5)} y1={y(t)} y2={y(t)} stroke="#222" strokeWidth={1.3} />
          <text x={x(0.5) - 11} y={y(t) + 5} textAnchor="end" fontFamily={SANS} fontWeight={700} fontSize={14} fill="#222">{t}</text>
        </g>
      ))}
      {yMinor.map((t) => (
        <line key={t} x1={x(0.5) - 3.5} x2={x(0.5)} y1={y(t)} y2={y(t)} stroke="#222" strokeWidth={1} />
      ))}
      {xMinor.map((t) => (
        <line key={t} x1={x(t)} x2={x(t)} y1={y(10)} y2={y(10) + 4} stroke="#222" strokeWidth={1} />
      ))}
      {cCategories.map((c, i) => {
        const px = x(i + 1);
        return (
          <g key={c}>
            <line x1={px} x2={px} y1={y(10)} y2={y(10) + 7} stroke="#222" strokeWidth={1.3} />
            <text transform={`translate(${px + 13},${y(10) + 25}) rotate(-45)`} textAnchor="end" fontFamily={SANS} fontWeight={700} fontStyle="italic" fontSize={17.5} fill="#222">{c}</text>
            <line x1={px} x2={px} y1={y(cLower[i])} y2={y(cUpper[i])} stroke="#333" strokeWidth={1} />
            <line x1={px - 4} x2={px + 4} y1={y(cLower[i])} y2={y(cLower[i])} stroke="#333" strokeWidth={1} />
            <line x1={px - 4} x2={px + 4} y1={y(cUpper[i])} y2={y(cUpper[i])} stroke="#333" strokeWidth={1} />
            <rect x={px - 4} y={y(cValues[i]) - 4} width={8} height={8} fill="#000" />
          </g>
        );
      })}
      <text transform="translate(133,1081) rotate(-90)" textAnchor="middle" fontFamily={SANS} fontWeight={700} fontSize={16} fill="#222" textLength={156} lengthAdjust="spacingAndGlyphs">Ce(III) fraction (%)</text>
    </g>
  );
}

export default function App() {
  const xA = d3.scaleLinear().domain([930, 880]).range([80.7, 346]);
  const xB = d3.scaleLinear().domain([536, 526]).range([516, 761.7]);
  const xD = d3.scaleLinear().domain([930, 880]).range([43.7, 304]);
  const xE = d3.scaleLinear().domain([536, 528]).range([531.7, 745]);
  const yTop = d3.scaleLinear().domain([0, 800]).range([800, 0]);
  const yLow = d3.scaleLinear().domain([0, 380]).range([1700, 1320]);
  return (
    <svg width={784} height={1738} viewBox="0 0 784 1738" style={{ position: "absolute", left: 0, top: 0, background: "#fff" }}>
      <Box x={9} y={18} letter="A" />
      <Box x={415} y={18} letter="B" />
      <Box x={9} y={889} letter="C" />
      <Box x={9} y={1336} letter="D" />
      <Box x={485} y={1336} letter="E" />

      <T x={160} w={143} y={34} s="Ce 3d XPS" />
      <T x={97} w={264} y={86} s="Air exposed Ce(OH)" />
      <T x={365} w={9} y={91} s="3" size={16} />
      <T x={553} w={126} y={34} s="O 1s XPS" />
      <T x={485} w={264} y={86} s="Air exposed Ce(OH)" />
      <T x={753} w={9} y={91} s="3" size={16} />
      <T x={235} w={266} y={912} s="Air exposed Ce(OH)" />
      <T x={503} w={9} y={917} s="3" size={16} />
      <T x={140} w={144} y={1365} s="Ce 3d XPS" />
      <T x={119} w={53} y={1406} s="CeO" />
      <T x={173} w={10} y={1411} s="2" size={16} />
      <T x={196} w={115} y={1406} s="nanorods" />
      <T x={608} w={126} y={1365} s="O 1s XPS" />
      <T x={574} w={54} y={1405} s="CeO" />
      <T x={629} w={10} y={1410} s="2" size={16} />
      <T x={651} w={116} y={1405} s="nanorods" />

      <Row x={403} w={58} y={152} s="Initial" />
      <Row x={403} w={65} y={271} s="110 °C" />
      <Row x={403} w={65} y={399} s="250 °C" />
      <Row x={405} w={65} y={499} s="400 °C" />
      <Row x={403} w={65} y={619} s="500 °C" />
      <Row x={403} w={49} y={738} s="Final" />
      <Row x={394} w={59} y={1519} s="Initial" />
      <Row x={394} w={49} y={1620} s="Final" />

      <Spectra id="a" specs={panelA} x={xA} y={yTop} rawW={0.9} />
      <Spectra id="b" specs={panelB} x={xB} y={yTop} rawW={0.9} />
      <Spectra id="d" specs={panelD} x={xD} y={yLow} rawW={1.9} />
      <Spectra id="e" specs={panelE} x={xE} y={yLow} rawW={1} />

      <EnergyAxis x={xA} y={793} from={930.9} to={871} minorStep={1} majors={ceMajor} labelY={829} title="Binding Energy (eV)" titleX={129} titleW={211} titleY={857} majorLen={15} minorLen={8} />
      <EnergyAxis x={xB} y={792} from={537.5} to={525.8} minorStep={0.5} majors={oMajorB} labelY={828} title="Binding Energy (eV)" titleX={518} titleW={210} titleY={857} majorLen={15} minorLen={8} />
      <EnergyAxis x={xD} y={1667.5} from={931.2} to={871.8} minorStep={1} majors={ceMajor} labelY={1705} title="Binding Energy (eV)" titleX={87} titleW={211} titleY={1733} majorLen={14} minorLen={7} />
      <EnergyAxis x={xE} y={1667.5} from={537.5} to={526.6} minorStep={0.5} majors={oMajorE} labelY={1705} title="Binding Energy (eV)" titleX={531} titleW={210} titleY={1733} majorLen={14} minorLen={7} />

      <PanelC />
    </svg>
  );
}
